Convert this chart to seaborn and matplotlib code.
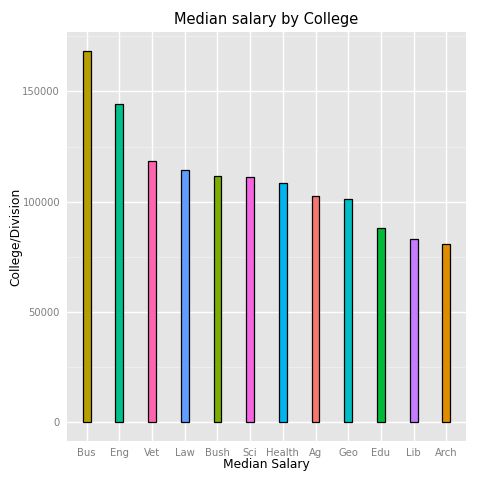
import numpy as np
import pandas as pd
import seaborn as sns
import matplotlib.pyplot as plt
from matplotlib.ticker import MultipleLocator

colleges = ['Bus', 'Eng', 'Vet', 'Law', 'Bush', 'Sci', 'Health', 'Ag', 'Geo', 'Edu', 'Lib', 'Arch']
salaries = [168500, 144100, 118500, 114200, 111800, 111300, 108300, 102600, 101400, 88100, 83000, 80700]

# ggplot default hue colours, assigned alphabetically
alpha_order = sorted(colleges)
hue_colors = ['#F8766D', '#DE8C00', '#B79F00', '#7CAE00', '#00BA38', '#00C08B',
              '#00BFC4', '#00B4F0', '#619CFF', '#C77CFF', '#F564E3', '#FF64B0']
palette = dict(zip(alpha_order, hue_colors))

df = pd.DataFrame({'college': colleges, 'salary': salaries})

sns.set_style('white')
plt.rcParams['text.color'] = 'black'
plt.rcParams['axes.labelcolor'] = 'black'

fig = plt.figure(figsize=(4.8, 4.8), dpi=100)
ax = fig.add_axes([67 / 480, 1 - 441 / 480, (466 - 67) / 480, (441 - 32) / 480])
ax.set_facecolor('#E5E5E5')

sns.barplot(data=df, x='college', y='salary', hue='college', order=colleges,
            palette=palette, saturation=1, legend=False, width=0.24,
            edgecolor='black', linewidth=0.9, ax=ax, zorder=3)

ymax = max(salaries)
ax.set_ylim(-0.05 * ymax, 1.05 * ymax)
ax.set_xlim(-0.6, len(colleges) - 0.4)
ax.yaxis.set_major_locator(MultipleLocator(50000))
ax.yaxis.set_minor_locator(MultipleLocator(25000))
ax.set_yticks([0, 50000, 100000, 150000])
ax.set_yticklabels(['0', '50000', '100000', '150000'])

ax.grid(which='major', color='white', linewidth=1.0, zorder=0)
ax.grid(which='minor', axis='y', color='#F2F2F2', linewidth=0.5, zorder=0)
ax.set_axisbelow(True)
for s in ax.spines.values():
    s.set_visible(False)

ax.tick_params(axis='both', which='major', length=3, width=0.6, color='#7F7F7F',
               labelcolor='#7F7F7F', labelsize=7.2, pad=2)
ax.tick_params(axis='both', which='minor', length=0)

ax.set_title('Median salary by College', fontsize=10.5, pad=6, color='black')
ax.set_xlabel('Median Salary', fontsize=8.8, labelpad=0)
ax.set_ylabel('College/Division', fontsize=8.8, labelpad=0)

fig.savefig('out.png', dpi=100)
